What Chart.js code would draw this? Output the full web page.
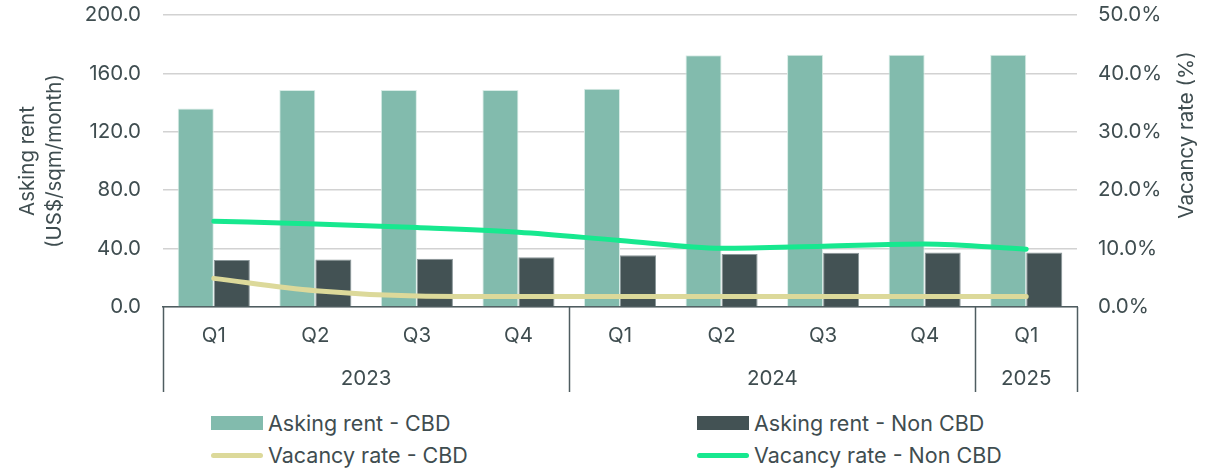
<!DOCTYPE html>
<html>
<head>
<meta charset="utf-8">
<script src="https://cdn.jsdelivr.net/npm/chart.js@4.4.1/dist/chart.umd.min.js"></script>
<style>
  body { margin: 0; background: #fff; font-family: Inter, "Open Sans", sans-serif; }
  #wrap { position: relative; width: 1214px; height: 468px; }
  #chart-box { position: absolute; left: 0; top: 0; width: 1214px; height: 400px; }
  #legend { position: absolute; left: 0; top: 400px; width: 1214px; height: 68px; }
  .item { position: absolute; display: flex; align-items: center; height: 30px; font-size: 21.5px; color: #3f4d50; white-space: nowrap; }
  .swatch { display: inline-block; margin-right: 5px; }
</style>
</head>
<body>
<div id="wrap">
  <div id="chart-box"><canvas id="rentChart" width="1214" height="400"></canvas></div>
  <div id="legend"></div>
</div>
<script>
// datos
const quarters = ['Q1', 'Q2', 'Q3', 'Q4', 'Q1', 'Q2', 'Q3', 'Q4', 'Q1'];
const years = [['2023', 0, 3], ['2024', 4, 7], ['2025', 8, 8]];
const rentCBD = [136, 148.6, 148.6, 148.6, 149.5, 172.5, 172.8, 172.8, 172.8];
const rentNonCBD = [32.2, 32.6, 33.1, 34.0, 35.4, 36.3, 37.2, 37.4, 37.4];
const vacancyCBD = [4.9, 2.8, 1.9, 1.8, 1.8, 1.8, 1.8, 1.8, 1.8];
const vacancyNonCBD = [14.7, 14.2, 13.6, 12.8, 11.4, 10.05, 10.4, 10.8, 9.9];

const textColor = '#3f4d50';
const boxColor = '#4f5d60';
const font = { family: 'Inter, "Open Sans", sans-serif', size: 20.5 };

// plugin para años, separadores y titulo derecho
const groupAxis = {
    id: 'groupAxis',
    afterDraw(chart) {
        const ctx = chart.ctx;
        const x = chart.scales.x;
        const area = chart.chartArea;
        const half = (x.getPixelForValue(1) - x.getPixelForValue(0)) / 2;
        const bottom = 392;

        ctx.save();
        ctx.strokeStyle = boxColor;
        ctx.lineWidth = 1.5;
        const edges = [area.left];
        years.forEach(y => edges.push(x.getPixelForValue(y[2]) + half));
        edges[edges.length - 1] = area.right;
        edges.forEach(px => {
            ctx.beginPath();
            ctx.moveTo(Math.round(px) + 0.5, area.bottom);
            ctx.lineTo(Math.round(px) + 0.5, bottom);
            ctx.stroke();
        });

        ctx.fillStyle = textColor;
        ctx.font = font.size + 'px ' + font.family;
        ctx.textAlign = 'center';
        ctx.textBaseline = 'middle';
        years.forEach(y => {
            const mid = (x.getPixelForValue(y[1]) + x.getPixelForValue(y[2])) / 2;
            ctx.fillText(y[0], mid, 379);
        });

        // titulo eje derecho (leído de abajo hacia arriba)
        ctx.translate(1187, 135);
        ctx.rotate(-Math.PI / 2);
        ctx.fillText('Vacancy rate (%)', 0, 0);
        ctx.restore();
    }
};

// ancho fijo de ejes y padding superior
function fixVertical(width) {
    return function(scale) {
        scale.width = width;
        scale.paddingTop = 15;
        scale.paddingBottom = 12;
    };
}

const ctx = document.getElementById('rentChart').getContext('2d');
const rentChart = new Chart(ctx, {
    type: 'bar',
    data: {
        labels: quarters,
        datasets: [
            {
                type: 'line',
                label: 'Vacancy rate - CBD',
                data: vacancyCBD,
                yAxisID: 'y1',
                borderColor: '#dcd99a',
                backgroundColor: '#dcd99a',
                borderWidth: 5,
                borderCapStyle: 'round',
                pointRadius: 0,
                cubicInterpolationMode: 'monotone',
                order: 0
            },
            {
                type: 'line',
                label: 'Vacancy rate - Non CBD',
                data: vacancyNonCBD,
                yAxisID: 'y1',
                borderColor: '#17e88f',
                backgroundColor: '#17e88f',
                borderWidth: 5,
                borderCapStyle: 'round',
                pointRadius: 0,
                cubicInterpolationMode: 'monotone',
                order: 0
            },
            {
                label: 'Asking rent - CBD',
                data: rentCBD,
                yAxisID: 'y',
                backgroundColor: '#82bbad',
                borderColor: '#d8ece6',
                borderWidth: 1,
                barPercentage: 1,
                categoryPercentage: 0.71,
                order: 1
            },
            {
                label: 'Asking rent - Non CBD',
                data: rentNonCBD,
                yAxisID: 'y',
                backgroundColor: '#435254',
                borderColor: '#8a9799',
                borderWidth: 1,
                barPercentage: 1,
                categoryPercentage: 0.71,
                order: 1
            }
        ]
    },
    options: {
        responsive: false,
        animation: false,
        layout: { padding: 0 },
        plugins: {
            legend: { display: false },
            tooltip: { enabled: false }
        },
        scales: {
            x: {
                grid: { display: false, drawTicks: false },
                border: { display: true, color: boxColor, width: 1.5 },
                ticks: { color: textColor, font: font, padding: 17, maxRotation: 0, autoSkip: false },
                afterFit(scale) { scale.height = 93; }
            },
            y: {
                position: 'left',
                min: 0,
                max: 200,
                ticks: {
                    stepSize: 40,
                    color: textColor,
                    font: font,
                    padding: 22,
                    callback: v => v.toFixed(1)
                },
                grid: { color: '#d2d2d2', lineWidth: 1.5, drawTicks: false },
                border: { display: false },
                title: {
                    display: true,
                    text: ['Asking rent', '(US$/sqm/month)'],
                    color: textColor,
                    font: { family: font.family, size: 20.5, lineHeight: 1.32 },
                    padding: { top: 14, bottom: 0 }
                },
                afterFit: fixVertical(163)
            },
            y1: {
                position: 'right',
                min: 0,
                max: 50,
                ticks: {
                    stepSize: 10,
                    color: textColor,
                    font: font,
                    padding: 21,
                    callback: v => v.toFixed(1) + '%'
                },
                grid: { display: false, drawTicks: false },
                border: { display: false },
                afterFit: fixVertical(137)
            }
        }
    },
    plugins: [groupAxis]
});

// leyenda
const legendSpots = [
    ['Asking rent - CBD', 211, 8],
    ['Asking rent - Non CBD', 697, 8],
    ['Vacancy rate - CBD', 211, 40],
    ['Vacancy rate - Non CBD', 697, 40]
];
const legend = document.getElementById('legend');
legendSpots.forEach(spot => {
    const ds = rentChart.data.datasets.find(d => d.label === spot[0]);
    const item = document.createElement('div');
    item.className = 'item';
    item.style.left = spot[1] + 'px';
    item.style.top = spot[2] + 'px';
    const sw = document.createElement('span');
    sw.className = 'swatch';
    sw.style.width = '52px';
    if (ds.type === 'line') {
        sw.style.height = '5px';
        sw.style.borderRadius = '3px';
        sw.style.background = ds.borderColor;
    } else {
        sw.style.height = '14px';
        sw.style.background = ds.backgroundColor;
    }
    item.appendChild(sw);
    item.appendChild(document.createTextNode(spot[0]));
    legend.appendChild(item);
});
</script>
</body>
</html>
